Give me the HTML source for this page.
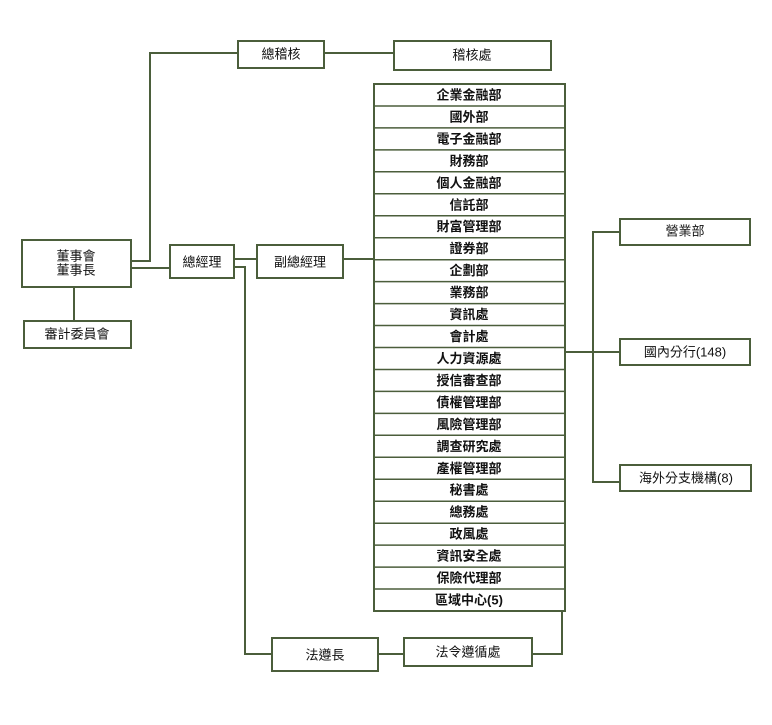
<!DOCTYPE html>
<html><head><meta charset="utf-8"><style>
body{margin:0;background:#fff;width:772px;height:720px;overflow:hidden}
svg text{font-family:"Liberation Sans","Noto Sans CJK TC",sans-serif;font-size:13px;fill:#111;text-anchor:middle;dominant-baseline:central}
.b{font-weight:bold}
</style></head><body>
<svg width="772" height="720" xmlns="http://www.w3.org/2000/svg">
<g fill="none" stroke="#4b5e3b" stroke-width="2">
<polyline points="131,261 150,261 150,53 238,53"/>
<line x1="131" y1="268" x2="170" y2="268"/>
<line x1="74" y1="287" x2="74" y2="321"/>
<line x1="234" y1="259" x2="257" y2="259"/>
<polyline points="234,267 245,267 245,654 272,654"/>
<line x1="378" y1="654" x2="404" y2="654"/>
<polyline points="532,654 562,654 562,611"/>
<line x1="343" y1="259" x2="374" y2="259"/>
<line x1="324" y1="53" x2="394" y2="53"/>
<line x1="565" y1="352" x2="620" y2="352"/>
<polyline points="620,232 593,232 593,482 620,482"/>
<rect x="238" y="41" width="86" height="27"/>
<rect x="394" y="41" width="157" height="29"/>
<rect x="22" y="240" width="109" height="47"/>
<rect x="24" y="321" width="107" height="27"/>
<rect x="170" y="245" width="64" height="33"/>
<rect x="257" y="245" width="86" height="33"/>
<rect x="620" y="219" width="130" height="26"/>
<rect x="620" y="339" width="130" height="26"/>
<rect x="620" y="465" width="131" height="26"/>
<rect x="272" y="638" width="106" height="33"/>
<rect x="404" y="638" width="128" height="28"/>
<rect x="374" y="84" width="191" height="527"/>
</g>
<g stroke="#4b5e3b" stroke-width="1.5" id="rows"></g>
<text x="281" y="54">總稽核</text>
<text x="472" y="55">稽核處</text>
<text x="76" y="256">董事會</text>
<text x="76" y="270">董事長</text>
<text x="77" y="334">審計委員會</text>
<text x="202" y="262">總經理</text>
<text x="300" y="262">副總經理</text>
<text x="685" y="231">營業部</text>
<text x="685" y="352">國內分行(148)</text>
<text x="686" y="478">海外分支機構(8)</text>
<text x="325" y="655">法遵長</text>
<text x="468" y="652">法令遵循處</text>
<g id="lbl" class="b"></g>
</svg>
<script>
var n=["企業金融部","國外部","電子金融部","財務部","個人金融部","信託部","財富管理部","證券部","企劃部","業務部","資訊處","會計處","人力資源處","授信審查部","債權管理部","風險管理部","調查研究處","產權管理部","秘書處","總務處","政風處","資訊安全處","保險代理部","區域中心(5)"];
var h=527/24,s='',t='';
for(var i=0;i<24;i++){var y=84+i*h;if(i>0)s+='<line x1="374" y1="'+y.toFixed(1)+'" x2="565" y2="'+y.toFixed(1)+'"/>';t+='<text class="b" x="469" y="'+(y+h/2).toFixed(1)+'">'+n[i]+'</text>';}
document.getElementById('rows').innerHTML=s;document.getElementById('lbl').innerHTML=t;
</script>
</body></html>
